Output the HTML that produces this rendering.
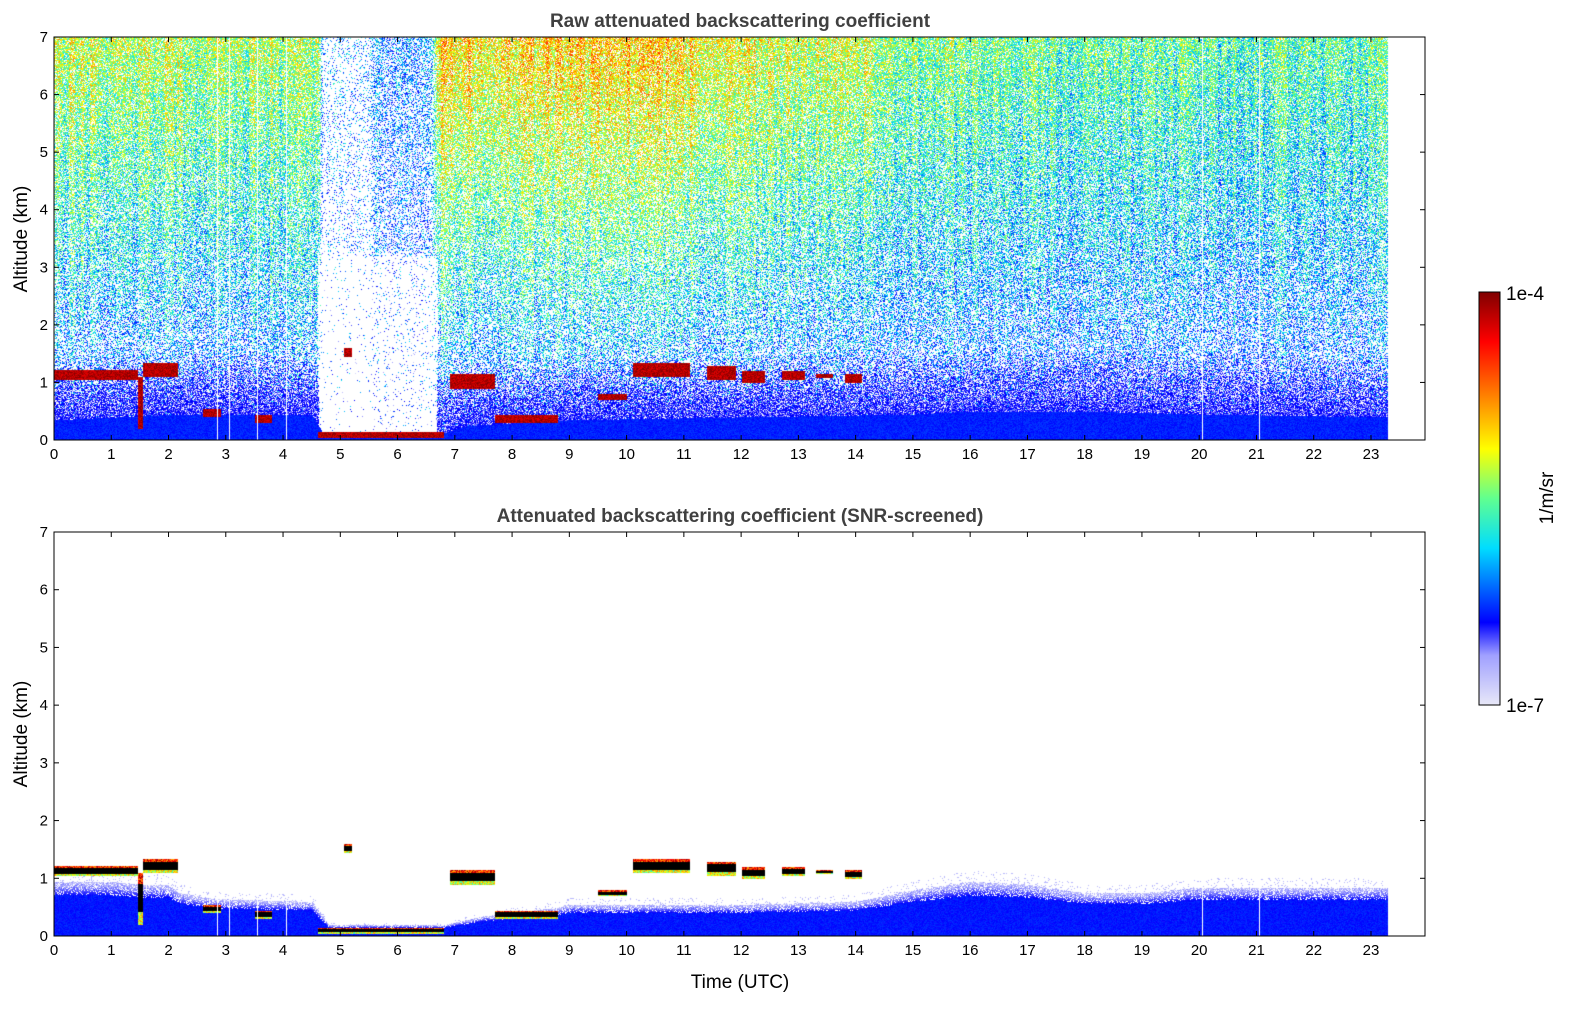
<!DOCTYPE html>
<html><head><meta charset="utf-8">
<style>
body{margin:0;background:#fff;width:1595px;height:1020px;overflow:hidden;font-family:"Liberation Sans",sans-serif;}
#wrap{position:relative;width:1595px;height:1020px;}
canvas{position:absolute;}
svg{position:absolute;left:0;top:0;}
</style></head>
<body>
<div id="wrap">
<canvas id="c1" width="1371" height="403" style="left:54px;top:37px"></canvas>
<canvas id="c2" width="1371" height="404" style="left:54px;top:532px"></canvas>
<svg id="ax" width="1595" height="1020">
<defs><linearGradient id="cbg" x1="0" y1="1" x2="0" y2="0">
<stop offset="0" stop-color="#e8e8f8"/><stop offset="0.12" stop-color="#a0a0ff"/><stop offset="0.2" stop-color="#0000ff"/><stop offset="0.38" stop-color="#00ddff"/><stop offset="0.5" stop-color="#60ff90"/><stop offset="0.62" stop-color="#ffff00"/><stop offset="0.75" stop-color="#ff8000"/><stop offset="0.88" stop-color="#ff0000"/><stop offset="1" stop-color="#800000"/>
</linearGradient></defs>
<text x="740" y="27" text-anchor="middle" font-size="19" font-weight="bold" fill="#404040">Raw attenuated backscattering coefficient</text>
<text x="740" y="522" text-anchor="middle" font-size="19" font-weight="bold" fill="#404040">Attenuated backscattering coefficient (SNR-screened)</text>
<text transform="translate(27,239) rotate(-90)" text-anchor="middle" font-size="19">Altitude (km)</text>
<text transform="translate(27,734) rotate(-90)" text-anchor="middle" font-size="19">Altitude (km)</text>
<text x="740" y="988" text-anchor="middle" font-size="19">Time (UTC)</text>
<rect x="1479" y="292" width="21" height="413" fill="url(#cbg)" stroke="#000" stroke-width="1"/>
<text x="1506" y="300" font-size="19">1e-4</text>
<text x="1506" y="712" font-size="19">1e-7</text>
<text transform="translate(1553,498) rotate(-90)" text-anchor="middle" font-size="19">1/m/sr</text>
<g id="axes"></g>
</svg>
</div>
<script>
const xTicks=[0,1,2,3,4,5,6,7,8,9,10,11,12,13,14,15,16,17,18,19,20,21,22,23];
const yTicks=[0,1,2,3,4,5,6,7];
// sky (upper-level noise) mean colour level by time
const skyT=[0,2,4,4.6,4.7,5.5,5.6,6.6,6.7,8,10,11,12,14,15,18,23.3];
const skyLevel=[0.58,0.57,0.55,0.54,0.3,0.3,0.3,0.3,0.68,0.66,0.68,0.68,0.6,0.6,0.52,0.48,0.47];
// sky pixel density (fraction above noise threshold) by time
const densT=[0,4.6,4.7,5.5,5.6,6.6,6.7,23.3];
const densVal=[1,1,0.2,0.2,0.55,0.55,1,1];
// solid boundary-layer top (raw panel)
const blT=[0,2.2,4.5,4.7,6.8,7.2,9,15,16,18,20,23.3];
const blTop=[0.35,0.45,0.45,0.12,0.12,0.25,0.35,0.45,0.5,0.5,0.45,0.4];
// SNR-screened boundary-layer top
const snrT=[0,1,1.5,2,2.2,2.8,4.5,4.8,6.8,7.5,8.8,9,12,14,15,16,17,18,19,20,23.3];
const snrTop=[0.95,0.95,0.9,0.9,0.75,0.65,0.6,0.2,0.2,0.35,0.5,0.55,0.55,0.6,0.8,0.95,0.9,0.75,0.75,0.85,0.85];
// cloud layers: start, end, base, top (km)
const cloudStart=[0,1.45,1.55,2.6,3.5,4.6,5.05,6.9,7.7,9.5,10.1,11.4,12.0,12.7,13.3,13.8];
const cloudEnd=[1.45,1.55,2.15,2.9,3.8,6.8,5.2,7.7,8.8,10.0,11.1,11.9,12.4,13.1,13.6,14.1];
const cloudBase=[1.05,0.2,1.1,0.4,0.3,0.05,1.45,0.9,0.3,0.7,1.1,1.05,1.0,1.05,1.08,1.0];
const cloudTop=[1.22,1.1,1.35,0.55,0.45,0.15,1.6,1.15,0.45,0.8,1.35,1.3,1.2,1.2,1.15,1.15];
// missing data columns
const gapTimes=[2.85,3.05,3.55,4.05,20.05,21.05];
const dataEnd=23.3;

const X0=54,PW=1371,pxh=57.26,pxk=57.6;
const stops=[[0,[232,232,248]],[0.12,[160,160,255]],[0.2,[0,0,255]],[0.38,[0,221,255]],[0.5,[96,255,144]],[0.62,[255,255,0]],[0.75,[255,128,0]],[0.88,[255,0,0]],[1,[128,0,0]]];
function jet(v){v=Math.max(0,Math.min(1,v));for(let i=1;i<stops.length;i++){if(v<=stops[i][0]){const a=stops[i-1],b=stops[i],f=(v-a[0])/(b[0]-a[0]);return [0,1,2].map(k=>a[1][k]+(b[1][k]-a[1][k])*f);}}return stops[8][1];}
function interp(ts,vs,t){if(t<=ts[0])return vs[0];for(let i=1;i<ts.length;i++){if(t<=ts[i]){const f=(t-ts[i-1])/(ts[i]-ts[i-1]);return vs[i-1]+(vs[i]-vs[i-1])*f;}}return vs[vs.length-1];}
function hash(a,b){let h=(a*374761393+b*668265263)|0;h=(h^(h>>>13))*1274126177|0;return ((h^(h>>>16))>>>0)/4294967296;}
function cloudAt(t,z){for(let i=0;i<cloudStart.length;i++){if(t>=cloudStart[i]&&t<=cloudEnd[i]&&z>=cloudBase[i]&&z<=cloudTop[i])return (z-cloudBase[i])/(cloudTop[i]-cloudBase[i]);}return -1;}
function isGap(x){for(const g of gapTimes){if(Math.abs(x-g*pxh)<0.6)return true;}return false;}

function draw(id,H,snr){
 const c=document.getElementById(id),ctx=c.getContext('2d');
 const img=ctx.createImageData(PW,H),d=img.data;
 const xmax=Math.round(dataEnd*pxh);
 for(let x=0;x<PW;x++){
  const t=x/pxh, gap=isGap(x);
  const colOff=(hash(Math.floor(x/3),7)-0.5)*0.12;
  const sky=interp(skyT,skyLevel,t), bl=interp(blT,blTop,t), st=interp(snrT,snrTop,t), dens=interp(densT,densVal,t);
  for(let y=0;y<H;y++){
   let col=[255,255,255];
   if(x<xmax&&!gap){
    const z=(H-y)/pxk, r=hash(x,y), r2=hash(y,x+999), r3=hash(x+517,y+33);
    const cf=cloudAt(t,z);
    if(cf>=0){
      if(snr){col=(cf>0.25&&cf<0.8)?[0,0,0]:jet(cf<0.5?0.45+r*0.3:0.7+r*0.3);}
      else col=jet(0.9+r*0.1);
    } else if(snr){
      if(z<st*0.75) col=jet(0.19+r*0.05);
      else if(z<st){ if(r<0.75) col=jet(0.2-(z-st*0.75)/(st*0.25)*0.15*(0.5+r));}
      else if(z<st*1.2 && r<0.08) col=jet(0.08);
    } else {
      const pBlue=dens>0.9 ? Math.max(0,0.85*(1-(z-bl)/1.1)) : 0;
      if(z<bl) col=jet(0.2+r*0.05);
      else if(r3<pBlue){
        col=jet(r2<0.6?0.2:0.08+r2*0.08);
      } else {
        const zf=z/7;
        const p=(0.3+0.5*zf)*(dens<1 && z<3.2 ? dens*0.25 : dens);
        if(r<p){
          const m=0.2+(sky-0.2)*Math.pow(zf,0.8)+colOff;
          col=jet(m+(r2-0.5)*0.3);
        }
      }
    }
   }
   const k=(y*PW+x)*4;d[k]=col[0];d[k+1]=col[1];d[k+2]=col[2];d[k+3]=255;
  }
 }
 ctx.putImageData(img,0,0);
}
draw('c1',403,false);
draw('c2',404,true);

const NS='http://www.w3.org/2000/svg';
const g=document.getElementById('axes');
function el(tag,attrs,text){const e=document.createElementNS(NS,tag);for(const k in attrs)e.setAttribute(k,attrs[k]);if(text!==undefined)e.textContent=text;g.appendChild(e);return e;}
[[37,440,'top'],[532,936,'bottom']].forEach(([y0,y1,nm])=>{
 const f=el('rect',{x:X0,y:y0,width:PW,height:y1-y0,fill:'none',stroke:'#000','stroke-width':1});
 
 
 const ky=(y1-y0)/7;
 yTicks.forEach(v=>{
  const yy=y1-v*ky;
  el('line',{x1:X0,x2:X0+5,y1:yy,y2:yy,stroke:'#000'});
  el('line',{x1:X0+PW-5,x2:X0+PW,y1:yy,y2:yy,stroke:'#000'});
  const tl=el('text',{x:X0-6,y:yy+5,'text-anchor':'end','font-size':15},String(v));
  
  
 });
 xTicks.forEach(v=>{
  const xx=X0+v*pxh;
  el('line',{x1:xx,x2:xx,y1:y1-5,y2:y1,stroke:'#000'});
  el('line',{x1:xx,x2:xx,y1:y0,y2:y0+5,stroke:'#000'});
  const tl=el('text',{x:xx,y:y1+19,'text-anchor':'middle','font-size':15},String(v));
  
  
 });
});
</script>
</body></html>
